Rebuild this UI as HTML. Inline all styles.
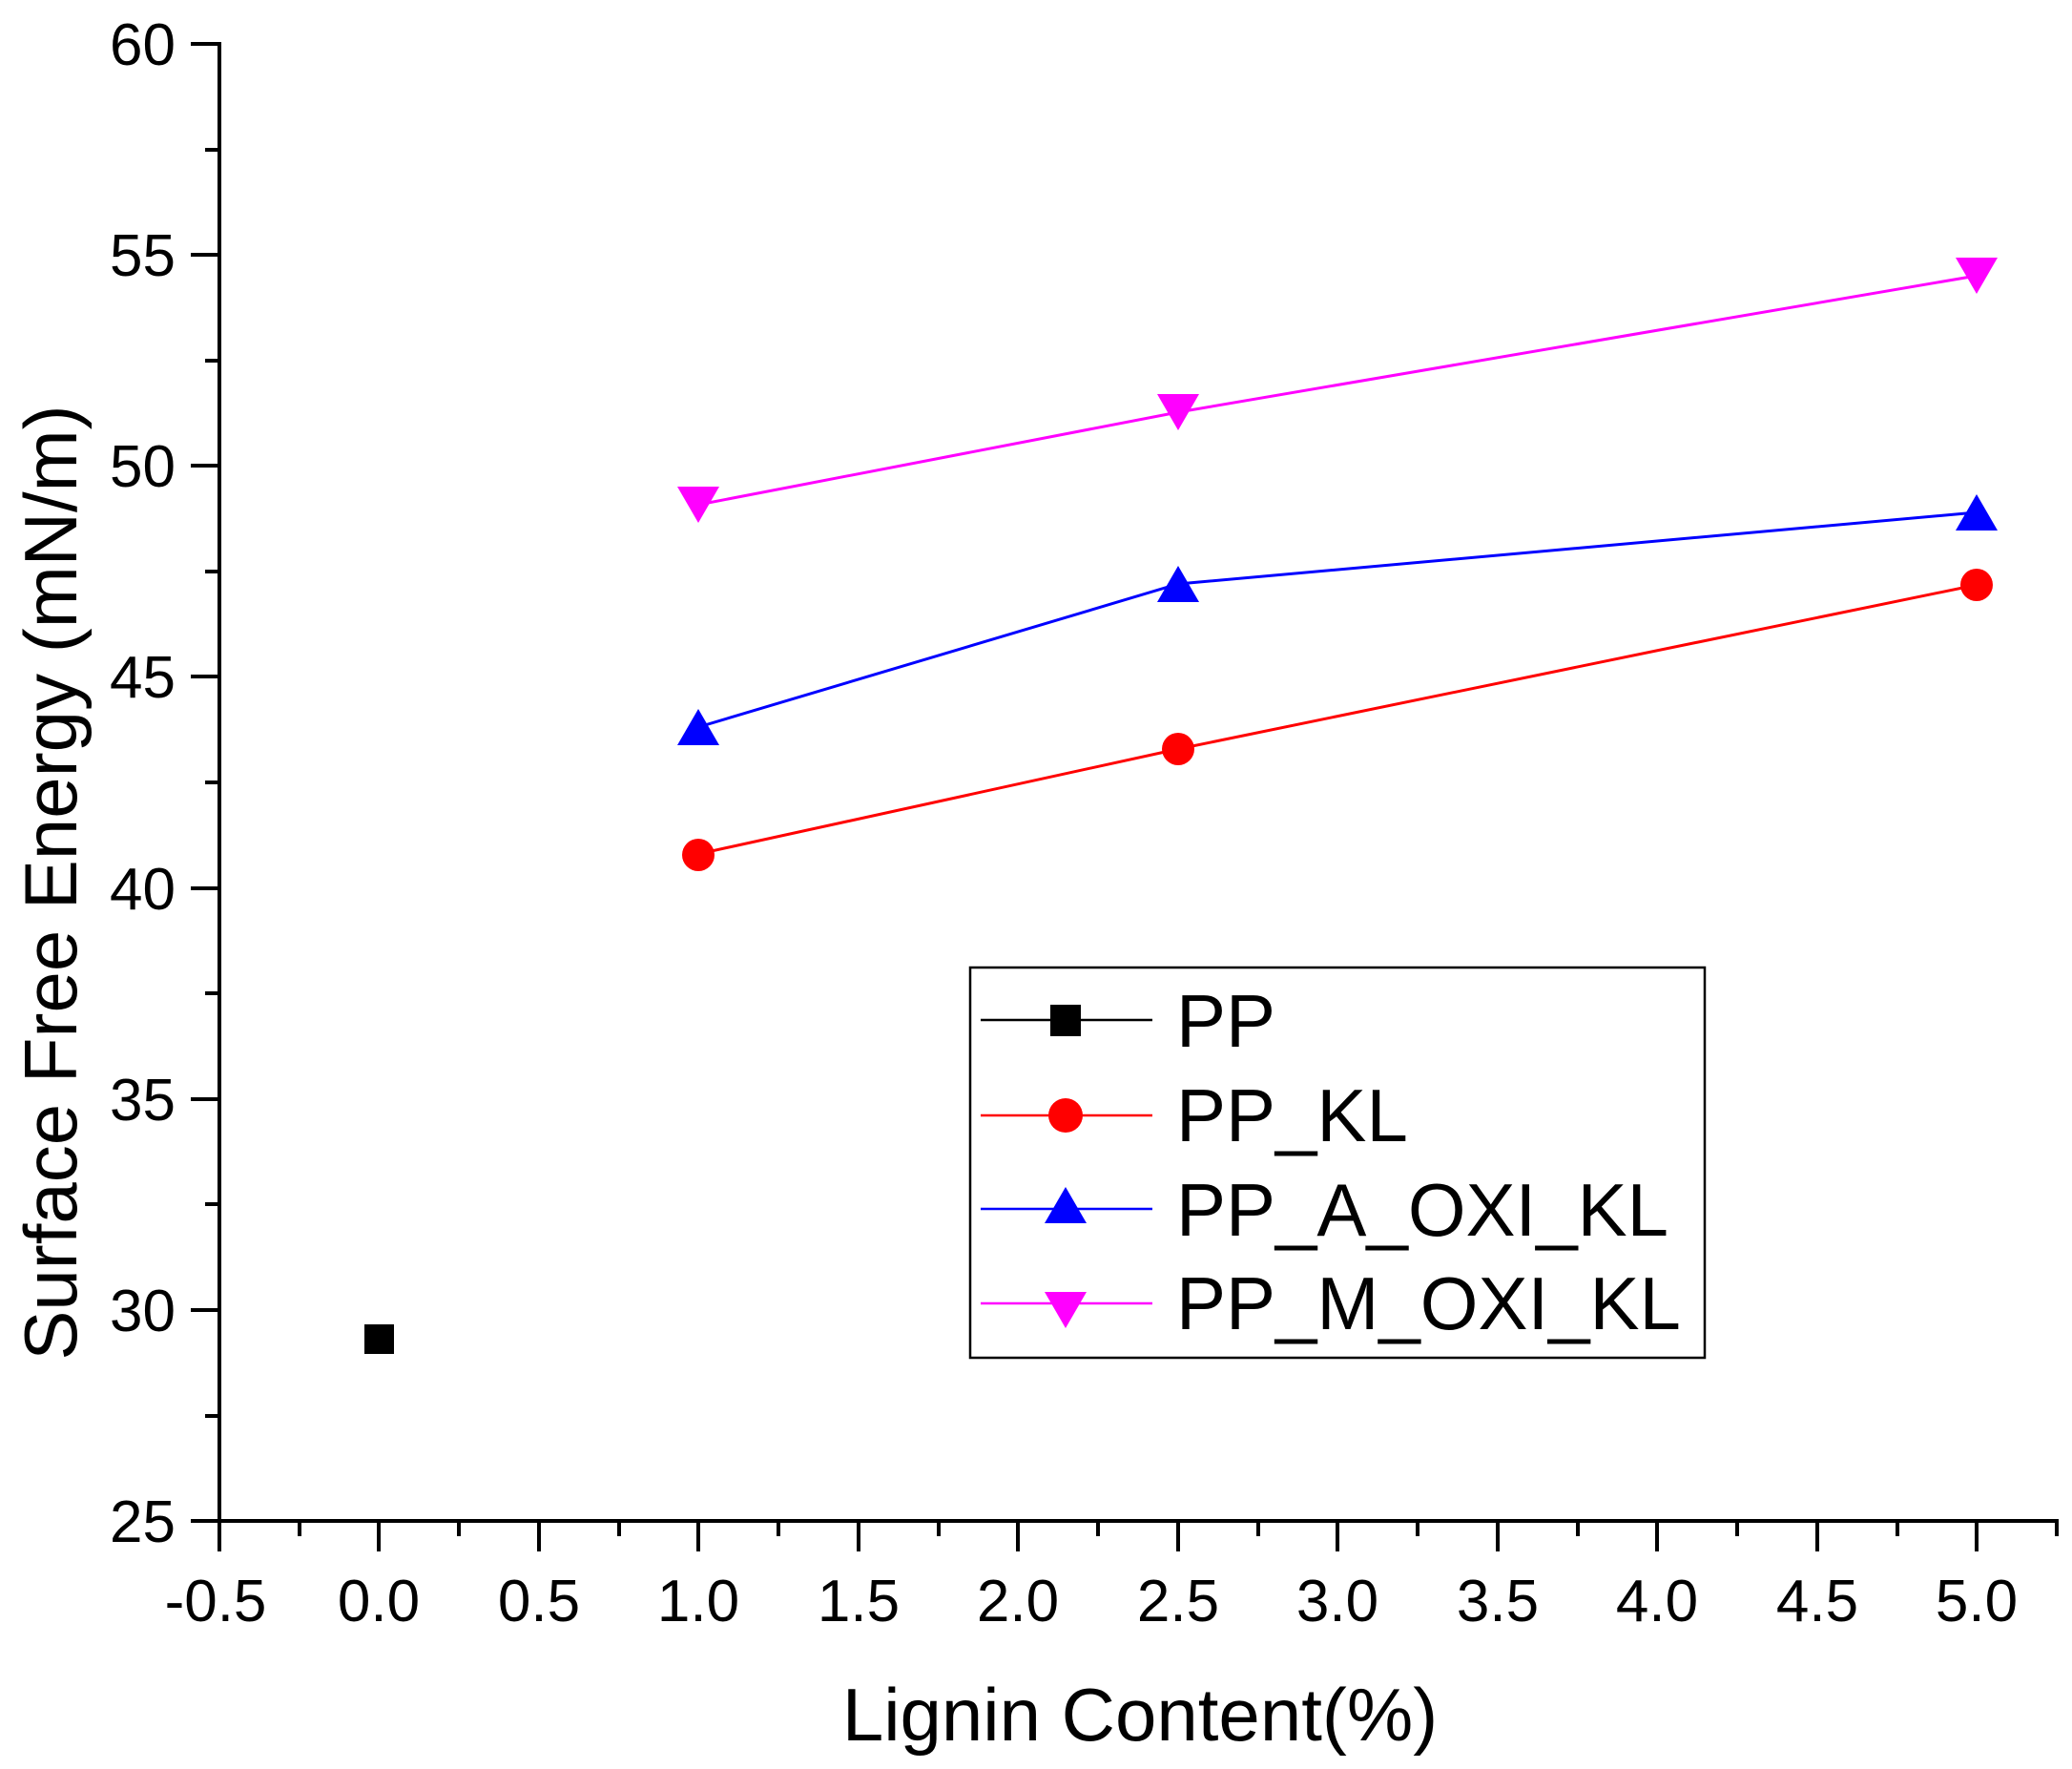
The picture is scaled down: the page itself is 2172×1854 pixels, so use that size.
<!DOCTYPE html>
<html><head><meta charset="utf-8"><style>html,body{margin:0;padding:0;background:#fff}svg{display:block}</style></head>
<body>
<svg width="2172" height="1854" viewBox="0 0 2172 1854" xmlns="http://www.w3.org/2000/svg" font-family="Liberation Sans, sans-serif">
<rect width="2172" height="1854" fill="#fff"/>
<g stroke="#000" stroke-width="4" fill="none">
<line x1="230" y1="44" x2="230" y2="1596"/>
<line x1="200" y1="1594" x2="2158" y2="1594"/>
<path d="M200 46H230M200 267H230M200 488H230M200 709H230M200 931H230M200 1152H230M200 1373H230"/>
<path d="M215 157H230M215 378H230M215 599H230M215 820H230M215 1041H230M215 1262H230M215 1484H230"/>
<path d="M230 1594V1626M397 1594V1626M565 1594V1626M732 1594V1626M900 1594V1626M1067 1594V1626M1235 1594V1626M1402 1594V1626M1570 1594V1626M1737 1594V1626M1905 1594V1626M2072 1594V1626"/>
<path d="M314 1594V1610M481 1594V1610M649 1594V1610M816 1594V1610M984 1594V1610M1151 1594V1610M1319 1594V1610M1486 1594V1610M1654 1594V1610M1821 1594V1610M1989 1594V1610M2156 1594V1610"/>
</g>
<g font-size="62" fill="#000" text-anchor="end">
<text x="184" y="68">60</text><text x="184" y="289">55</text><text x="184" y="510">50</text><text x="184" y="731">45</text><text x="184" y="953">40</text><text x="184" y="1174">35</text><text x="184" y="1395">30</text><text x="184" y="1616">25</text>
</g>
<g font-size="62" fill="#000" text-anchor="middle">
<text x="226" y="1699">-0.5</text><text x="397" y="1699">0.0</text><text x="565" y="1699">0.5</text><text x="732" y="1699">1.0</text><text x="900" y="1699">1.5</text><text x="1067" y="1699">2.0</text><text x="1235" y="1699">2.5</text><text x="1402" y="1699">3.0</text><text x="1570" y="1699">3.5</text><text x="1737" y="1699">4.0</text><text x="1905" y="1699">4.5</text><text x="2072" y="1699">5.0</text>
</g>
<text x="1195" y="1824" font-size="78" text-anchor="middle" fill="#000">Lignin Content(%)</text>
<text transform="translate(80,925) rotate(-90)" font-size="78" text-anchor="middle" fill="#000">Surface Free Energy  (mN/m)</text>
<polyline points="732,895 1235,785 2072,613" fill="none" stroke="#f00" stroke-width="3"/>
<polyline points="732,762 1235,612 2072,537" fill="none" stroke="#00f" stroke-width="3"/>
<polyline points="732,529 1235,432 2072,289" fill="none" stroke="#f0f" stroke-width="3"/>
<rect x="382" y="1388" width="31" height="31" fill="#000"/>
<g fill="#f00"><circle cx="732" cy="896" r="17"/><circle cx="1235" cy="785" r="17"/><circle cx="2072" cy="613" r="17"/></g>
<g fill="#00f">
<path d="M732 743l22 38h-44z"/><path d="M1235 593l22 38h-44z"/><path d="M2072 518l22 38h-44z"/></g>
<g fill="#f0f">
<path d="M732 548l22 -38h-44z"/><path d="M1235 451l22 -38h-44z"/><path d="M2072 308l22 -38h-44z"/></g>
<rect x="1017" y="1014" width="770" height="409" fill="#fff" stroke="#000" stroke-width="2.5"/>
<line x1="1028" y1="1069" x2="1208" y2="1069" stroke="#000" stroke-width="2.5"/>
<rect x="1101" y="1053" width="32" height="33" fill="#000"/>
<line x1="1028" y1="1169" x2="1208" y2="1169" stroke="#f00" stroke-width="2.5"/>
<circle cx="1117" cy="1169" r="18" fill="#f00"/>
<line x1="1028" y1="1267" x2="1208" y2="1267" stroke="#00f" stroke-width="2.5"/>
<path d="M1117 1244l22 38h-44z" fill="#00f"/>
<line x1="1028" y1="1366" x2="1208" y2="1366" stroke="#f0f" stroke-width="2.5"/>
<path d="M1117 1392l22 -38h-44z" fill="#f0f"/>
<g font-size="78" fill="#000">
<text x="1233" y="1097">PP</text><text x="1233" y="1196">PP_KL</text><text x="1233" y="1295">PP_A_OXI_KL</text><text x="1233" y="1393">PP_M_OXI_KL</text>
</g>
</svg>
</body></html>
